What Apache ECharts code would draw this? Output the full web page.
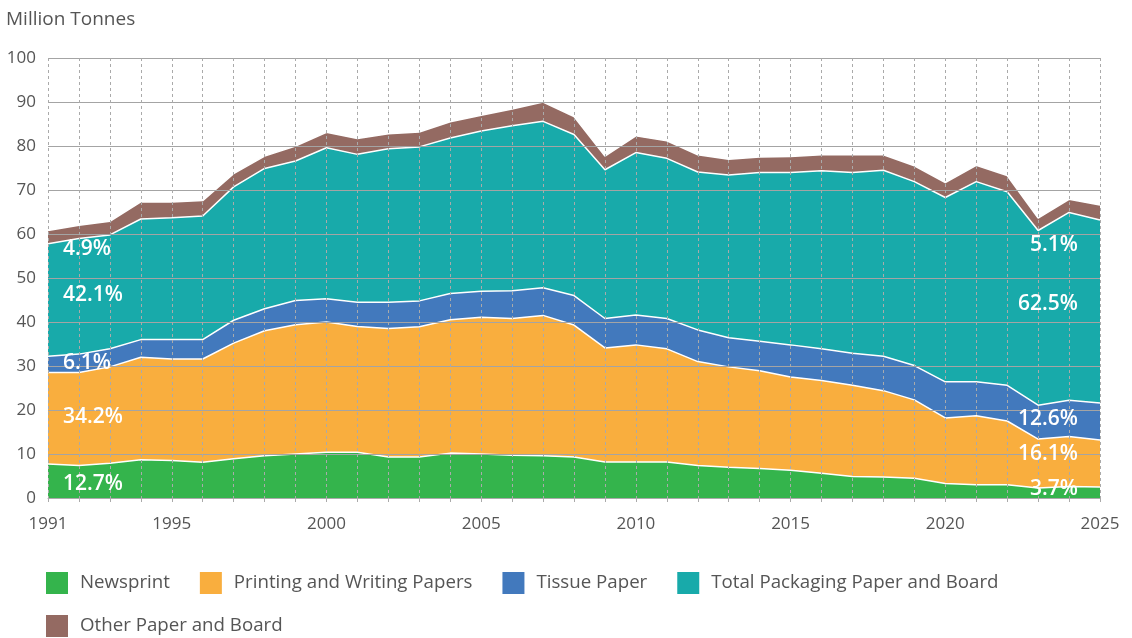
<!DOCTYPE html>
<html>
<head>
<meta charset="utf-8">
<script src="https://cdn.jsdelivr.net/npm/echarts@6/dist/echarts.min.js"></script>
<style>
html,body{margin:0;padding:0;background:#fff;}
#chart{width:1132px;height:638px;}
</style>
</head>
<body>
<div id="chart"></div>
<script>
var years = [];
for (var y = 1991; y <= 2025; y++) years.push(String(y));
var yearLabels = ['1991','1995','2000','2005','2010','2015','2020','2025'];

// million tonnes per category
var newsprint = [7.7,7.4,7.9,8.7,8.5,8.1,8.9,9.6,10.0,10.4,10.4,9.3,9.3,10.2,10.0,9.7,9.6,9.3,8.2,8.2,8.2,7.4,7.0,6.7,6.3,5.6,4.9,4.8,4.5,3.3,3.0,3.0,2.3,2.6,2.5];
var printing = [20.8,21.1,21.9,23.3,23.1,23.5,26.3,28.4,29.4,29.6,28.6,29.2,29.6,30.3,31.1,31.1,31.9,30.0,25.9,26.6,25.7,23.6,22.8,22.2,21.2,21.1,20.7,19.6,17.8,14.9,15.7,14.5,11.1,11.4,10.7];
var tissue = [3.7,4.2,4.1,4.0,4.4,4.4,5.2,5.0,5.5,5.3,5.5,6.0,5.9,6.0,5.9,6.3,6.3,6.7,6.7,6.8,6.9,7.2,6.6,6.7,7.3,7.2,7.3,7.8,7.8,8.2,7.7,8.1,7.7,8.2,8.4];
var packaging = [25.6,26.3,25.9,27.4,27.7,28.1,30.3,31.9,31.7,34.3,33.6,34.9,35.0,35.3,36.4,37.5,37.8,36.6,33.8,36.9,36.4,35.9,37.0,38.4,39.2,40.5,41.1,42.3,41.8,41.9,45.5,44.0,39.7,42.7,41.6];
var other = [3.0,3.0,3.1,3.9,3.6,3.5,3.0,2.8,3.4,3.5,3.6,3.4,3.4,3.7,3.6,3.8,4.4,4.1,3.1,3.8,4.0,3.9,3.6,3.5,3.6,3.6,4.0,3.5,3.6,3.4,3.7,3.7,2.8,3.0,3.4];

var names = ['Newsprint','Printing and Writing Papers','Tissue Paper','Total Packaging Paper and Board','Other Paper and Board'];
var colors = ['#34b44c','#f9ae3e','#4279bd','#18aaaa','#946a62'];
var seriesData = [newsprint, printing, tissue, packaging, other];

// share labels [text, y position in chart units]
var shares1991 = [['12.7%',3.2],['34.2%',18.5],['6.1%',30.7],['42.1%',46.1],['4.9%',56.5]];
var shares2025 = [['3.7%',2.0],['16.1%',10.0],['12.6%',18.0],['62.5%',44.0],['5.1%',57.6]];

var FONT = 'Open Sans';
var labelStyle = {color:'#fff', fontSize:21, fontWeight:600, fontFamily:FONT};

var series = [];
for (var i = 0; i < 5; i++) {
    series.push({
        name: names[i],
        type: 'line',
        stack: 'total',
        data: seriesData[i],
        symbol: 'none',
        smooth: false,
        lineStyle: {color:'#fff', width:1.5},
        itemStyle: {color: colors[i]},
        areaStyle: {color: colors[i], opacity: 1},
        z: 2,
        markPoint: {
            symbol: 'circle',
            symbolSize: 0,
            animation: false,
            data: [
                {coord:['1991', shares1991[i][1]], label:Object.assign({show:true, formatter:shares1991[i][0], position:'right', distance:15}, labelStyle)},
                {coord:['2025', shares2025[i][1]], label:Object.assign({show:true, formatter:shares2025[i][0], position:'left', distance:22}, labelStyle)}
            ]
        }
    });
}

var legendText = {fontSize:18.7, color:'#555', fontFamily:FONT, padding:[0,0,0,7]};

var myChart = echarts.init(document.getElementById('chart'));
var option = {
    animation: false,
    textStyle: {fontFamily: FONT},
    title: {
        text: 'Million Tonnes',
        left: 6,
        top: 10,
        padding: 0,
        textStyle: {fontSize:19, fontWeight:'normal', color:'#555', fontFamily:FONT}
    },
    legend: [
        {
            data: names.slice(0,4),
            left: 46, top: 572,
            padding: 0,
            itemWidth: 22, itemHeight: 22, itemGap: 30,
            icon: 'rect',
            textStyle: legendText
        },
        {
            data: names.slice(4),
            left: 46, top: 615,
            padding: 0,
            itemWidth: 22, itemHeight: 22,
            icon: 'rect',
            textStyle: legendText
        }
    ],
    grid: {left:48, right:32, top:58, bottom:140},
    xAxis: {
        type: 'category',
        data: years,
        boundaryGap: false,
        z: 5,
        axisLine: {lineStyle:{color:'#aaa'}},
        axisTick: {show:true, interval:0, length:5, lineStyle:{color:'#aaa', type:'dashed'}},
        axisLabel: {
            interval: function (idx, val) { return yearLabels.indexOf(val) >= 0; },
            color:'#555', fontSize:17, margin:18, fontFamily:FONT
        },
        splitLine: {show:true, interval:0, lineStyle:{color:'#aaa', type:[3,3], width:1}}
    },
    yAxis: {
        type: 'value',
        min: 0, max: 100, interval: 10,
        z: 5,
        axisLine: {show:false},
        axisTick: {show:false},
        axisLabel: {color:'#555', fontSize:17, margin:12, fontFamily:FONT},
        splitLine: {lineStyle:{color:'#a4a4a4', width:1.2}}
    },
    series: series
};
myChart.setOption(option);
</script>
</body>
</html>
